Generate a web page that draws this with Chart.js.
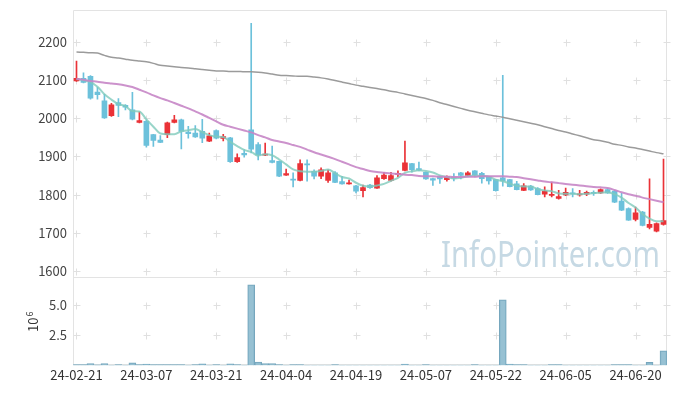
<!DOCTYPE html>
<html><head><meta charset="utf-8">
<script src="https://cdn.jsdelivr.net/npm/chart.js@4.4.1/dist/chart.umd.min.js"></script>
<style>html,body{margin:0;padding:0;background:#fff;}#wrap{width:677px;height:396px;position:relative;}</style>
</head><body><div id="wrap"><canvas id="c"></canvas></div>
<script>
const dates = ['24-02-21','24-02-22','24-02-23','24-02-26','24-02-27','24-02-28','24-02-29','24-03-04','24-03-05','24-03-06',
'24-03-07','24-03-08','24-03-11','24-03-12','24-03-13','24-03-14','24-03-15','24-03-18','24-03-19','24-03-20',
'24-03-21','24-03-22','24-03-25','24-03-26','24-03-27','24-03-28','24-03-29','24-04-01','24-04-02','24-04-03',
'24-04-04','24-04-05','24-04-08','24-04-09','24-04-11','24-04-12','24-04-15','24-04-16','24-04-17','24-04-18',
'24-04-19','24-04-22','24-04-23','24-04-24','24-04-25','24-04-26','24-04-29','24-04-30','24-05-02','24-05-03',
'24-05-07','24-05-08','24-05-09','24-05-10','24-05-13','24-05-14','24-05-16','24-05-17','24-05-20','24-05-21',
'24-05-22','24-05-23','24-05-24','24-05-27','24-05-28','24-05-29','24-05-30','24-05-31','24-06-03','24-06-04',
'24-06-05','24-06-07','24-06-10','24-06-11','24-06-12','24-06-13','24-06-14','24-06-17','24-06-18','24-06-19',
'24-06-20','24-06-21','24-06-24','24-06-25','24-06-26'];
const opens = [2098,2105,2110,2069,2046,2007,2041,2034,2022,1989,
1992,1957,1943,1957,1989,1996,1964,1961,1966,1940,
1968,1947,1949,1886,1908,1970,1931,1903,1889,1887,
1851,1840,1837,1880,1861,1848,1837,1857,1834,1828,
1823,1810,1825,1817,1842,1837,1853,1863,1881,1868,
1858,1842,1847,1839,1845,1857,1850,1862,1856,1847,
1839,1844,1839,1828,1811,1822,1816,1801,1798,1790,
1799,1804,1799,1801,1805,1804,1813,1809,1783,1763,
1735,1754,1714,1704,1722];
const highs = [2150,2119,2112,2081,2063,2039,2052,2036,2068,2017,
1995,1958,1955,1990,2008,1998,1979,1981,1997,1961,
1970,1958,1950,1907,1917,2249,1936,1935,1927,1888,
1867,1857,1891,1891,1865,1870,1865,1860,1848,1838,
1824,1825,1827,1850,1858,1858,1862,1940,1882,1885,
1859,1843,1849,1849,1855,1858,1860,1863,1858,1848,
1840,2113,1840,1835,1829,1824,1818,1820,1833,1811,
1817,1816,1811,1809,1810,1815,1816,1811,1803,1765,
1767,1756,1841,1726,1893];
const lows = [2097,2093,2050,2050,2000,2005,2004,2022,1996,1988,
1924,1926,1936,1949,1988,1920,1948,1950,1936,1939,
1946,1941,1884,1884,1898,1909,1891,1902,1883,1847,
1850,1820,1836,1835,1841,1842,1832,1831,1827,1827,
1804,1794,1816,1816,1840,1835,1847,1862,1859,1862,
1840,1824,1829,1835,1836,1841,1849,1846,1830,1827,
1809,1822,1820,1812,1810,1811,1799,1794,1794,1788,
1797,1794,1796,1797,1798,1803,1803,1779,1758,1732,
1731,1718,1710,1702,1720];
const closes = [2105,2094,2053,2062,2001,2035,2034,2029,1998,1994,
1929,1942,1937,1988,1996,1966,1960,1951,1948,1954,
1948,1952,1886,1897,1904,1919,1904,1906,1884,1848,
1855,1838,1881,1878,1848,1865,1857,1832,1828,1830,
1809,1818,1818,1844,1851,1850,1856,1883,1865,1864,
1841,1838,1841,1847,1843,1850,1857,1851,1842,1836,
1810,1836,1821,1813,1823,1812,1800,1809,1800,1795,
1806,1802,1802,1806,1803,1813,1804,1780,1759,1733,
1752,1719,1722,1724,1732];
const ma5 = [2103,2100,2095,2083,2063,2049,2037,2032,2019,2018,
1997,1978,1960,1958,1958,1966,1969,1972,1964,1956,
1952,1951,1938,1927,1917,1912,1902,1906,1903,1892,
1879,1866,1861,1860,1860,1862,1866,1856,1846,1842,
1831,1823,1821,1824,1828,1836,1844,1857,1861,1864,
1862,1858,1850,1846,1842,1844,1848,1850,1849,1847,
1839,1835,1829,1823,1821,1821,1814,1811,1809,1803,
1802,1802,1801,1802,1804,1805,1806,1801,1792,1778,
1766,1749,1737,1730,1730];
const ma20 = [2104,2101,2098,2096,2093,2091,2089,2086,2082,2075,
2068,2060,2053,2047,2040,2033,2026,2018,2010,2001,
1992,1983,1978,1973,1968,1963,1956,1950,1943,1939,
1935,1930,1925,1918,1911,1905,1899,1893,1886,1879,
1872,1867,1862,1859,1857,1855,1854,1852,1851,1849,
1848,1848,1847,1847,1846,1846,1847,1847,1848,1848,
1848,1848,1847,1846,1843,1840,1837,1834,1832,1830,
1828,1826,1824,1822,1820,1819,1817,1812,1806,1801,
1797,1792,1788,1784,1780];
const ma120 = [2174,2173,2172,2171,2165,2160,2158,2155,2152,2150,
2148,2144,2139,2137,2135,2133,2132,2130,2128,2126,
2124,2124,2123,2123,2122,2122,2121,2119,2116,2113,
2112,2111,2110,2110,2108,2106,2103,2099,2095,2091,
2087,2084,2081,2078,2075,2071,2068,2064,2060,2056,
2052,2047,2041,2036,2031,2026,2021,2017,2013,2009,
2006,2003,1999,1995,1991,1987,1983,1978,1973,1968,
1964,1959,1954,1949,1944,1941,1937,1932,1929,1925,
1922,1918,1914,1910,1907];
const volumes = [60000,60000,150000,50000,150000,20000,70000,20000,220000,70000,
120000,70000,70000,70000,70000,70000,20000,70000,130000,20000,
70000,20000,130000,70000,20000,6720000,280000,150000,150000,70000,
20000,70000,70000,20000,20000,20000,20000,70000,20000,20000,
20000,20000,20000,20000,20000,20000,20000,120000,20000,20000,
70000,20000,20000,20000,20000,20000,20000,70000,20000,20000,
20000,5470000,120000,70000,70000,20000,20000,20000,70000,70000,
20000,20000,20000,20000,20000,20000,20000,70000,70000,70000,
20000,20000,250000,20000,1220000];
const priceTicks = [1600,1700,1800,1900,2000,2100,2200];
const volumeTicks = [2500000,5000000];
const xLabelEvery = 10;

const UP = '#ea3237', DOWN = '#6cc1db';
const FONT = '"Noto Sans CJK KR","Noto Sans",sans-serif';
const candleColors = closes.map((c,i)=> c >= opens[i] ? UP : DOWN);

const decor = {
  id: 'decor',
  beforeDatasetsDraw(chart) {
    const {ctx, chartArea: a, scales} = chart;
    const x = scales.x, yp = scales.y, yv = scales.yv;
    ctx.save();
    ctx.font = '36px "Noto Sans", sans-serif';
    ctx.fillStyle = '#c6d9e4';
    ctx.textAlign = 'left';
    ctx.textBaseline = 'alphabetic';
    ctx.fillText('InfoPointer.com', 441, 267, 219);
    ctx.strokeStyle = '#e3e3e3';
    ctx.lineWidth = 1;
    ctx.beginPath();
    const L = Math.round(a.left) + 0.5, R = Math.round(a.right) - 0.5;
    const T = Math.round(a.top) + 0.5, B = Math.round(a.bottom) - 0.5;
    const M = Math.round(yp.bottom) + 0.5;
    ctx.moveTo(L, T); ctx.lineTo(R, T); ctx.lineTo(R, B); ctx.lineTo(L, B); ctx.closePath();
    ctx.moveTo(L, M); ctx.lineTo(R, M);
    ctx.stroke();
    const xs = [];
    for (let i = 0; i < dates.length; i += xLabelEvery) xs.push(Math.round(x.getPixelForValue(i)) + 0.5);
    xs.push(R);
    const ys = priceTicks.map(v => Math.round(yp.getPixelForValue(v)) + 0.5)
      .concat(volumeTicks.map(v => Math.round(yv.getPixelForValue(v)) + 0.5));
    ctx.strokeStyle = '#e0e0e0';
    ctx.beginPath();
    for (const px of xs) for (const py of ys) {
      ctx.moveTo(px - 3, py); ctx.lineTo(px + 4, py);
      ctx.moveTo(px, py - 3); ctx.lineTo(px, py + 4);
    }
    ctx.stroke();
    ctx.fillStyle = '#333';
    ctx.translate(38, 332);
    ctx.rotate(-Math.PI / 2);
    ctx.font = '13px ' + FONT;
    ctx.fillText('10', 0, 0);
    const w = ctx.measureText('10').width;
    ctx.font = '9px ' + FONT;
    ctx.fillText('6', w + 1, -5);
    ctx.restore();
  }
};

const noPad = s => { s.paddingTop = 0; s.paddingBottom = 0; s.paddingLeft = 0; s.paddingRight = 0; };

new Chart(document.getElementById('c'), {
  data: {
    labels: dates,
    datasets: [
      { type: 'line', data: ma120, yAxisID: 'y', borderColor: 'rgba(150,150,150,0.95)', borderWidth: 1.5, pointRadius: 0, cubicInterpolationMode: 'monotone', order: 0 },
      { type: 'line', data: ma20, yAxisID: 'y', borderColor: 'rgba(198,134,198,0.9)', borderWidth: 2, pointRadius: 0, cubicInterpolationMode: 'monotone', order: 0 },
      { type: 'line', data: ma5, yAxisID: 'y', borderColor: 'rgba(128,202,188,0.8)', borderWidth: 2, pointRadius: 0, cubicInterpolationMode: 'monotone', order: 0 },
      { type: 'bar', data: lows.map((l,i)=>[l, highs[i]]), yAxisID: 'y', backgroundColor: candleColors, barThickness: 1, grouped: false, order: 2 },
      { type: 'bar', data: opens.map((o,i)=>[o, closes[i]]), yAxisID: 'y', backgroundColor: candleColors, barThickness: 5, minBarLength: 1, grouped: false, order: 1 },
      { type: 'bar', data: volumes, yAxisID: 'yv', backgroundColor: 'rgba(140,186,206,0.9)', borderColor: '#76a6bd', borderWidth: 1, barPercentage: 1, categoryPercentage: 1, grouped: false, order: 3 }
    ]
  },
  options: {
    responsive: true, maintainAspectRatio: false, animation: false,
    layout: { padding: { left: 0, right: 10, top: 10, bottom: 11 } },
    plugins: { legend: { display: false }, tooltip: { enabled: false } },
    scales: {
      x: {
        type: 'category', offset: true,
        grid: { display: false, drawTicks: false }, border: { display: false },
        afterFit: noPad,
        ticks: { autoSkip: false, maxRotation: 0, minRotation: 0, padding: 2, color: '#333', font: { family: FONT, size: 13 },
          callback: (v, i) => i % xLabelEvery === 0 ? dates[i] : '' }
      },
      yv: {
        type: 'linear', position: 'left', stack: 'panes', stackWeight: 1,
        min: 0, max: 7400000,
        grid: { display: false, drawTicks: false }, border: { display: false },
        afterBuildTicks: s => { s.ticks = volumeTicks.map(v => ({ value: v })); },
        afterFit: s => { s.width = 73; noPad(s); },
        ticks: { padding: 6, color: '#444', font: { family: FONT, size: 13 }, callback: v => (v / 1e6).toFixed(1) }
      },
      y: {
        type: 'linear', position: 'left', stack: 'panes', stackWeight: 3,
        min: 1585, max: 2284,
        grid: { display: false, drawTicks: false }, border: { display: false },
        afterBuildTicks: s => { s.ticks = priceTicks.map(v => ({ value: v })); },
        afterFit: s => { s.width = 73; noPad(s); },
        ticks: { padding: 6, color: '#444', font: { family: FONT, size: 13 }, callback: v => String(v) }
      }
    }
  },
  plugins: [decor]
});
</script>
</body></html>
